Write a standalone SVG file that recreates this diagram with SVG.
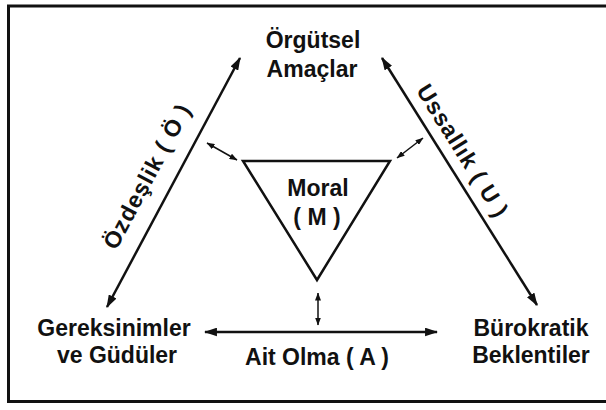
<svg xmlns="http://www.w3.org/2000/svg" width="606" height="410" viewBox="0 0 606 410">
<defs>
<style>
.t{font-family:"Liberation Sans",Arial,sans-serif;font-weight:bold;font-size:23px;fill:#111;text-anchor:middle}
.r{letter-spacing:1px}
.big{stroke:#111;stroke-width:2.5;fill:none}
.sm{stroke:#111;stroke-width:1.5;fill:none}
</style>
<marker id="ah" viewBox="0 0 12 8" refX="11" refY="4" markerUnits="userSpaceOnUse" markerWidth="13" markerHeight="9" orient="auto-start-reverse">
<path d="M0,0 L12,4 L0,8 Z" fill="#111"/>
</marker>
<marker id="as" viewBox="0 0 8 6" refX="7.5" refY="3" markerUnits="userSpaceOnUse" markerWidth="8" markerHeight="6" orient="auto-start-reverse">
<path d="M0,0 L8,3 L0,6 Z" fill="#111"/>
</marker>
</defs>
<rect x="0" y="0" width="606" height="410" fill="#fff"/>
<rect x="8.5" y="6" width="600" height="395.5" fill="none" stroke="#111" stroke-width="3"/>

<g id="connectors">
<line class="big" x1="107" y1="307" x2="240" y2="58" marker-start="url(#ah)" marker-end="url(#ah)"/>
<line class="big" x1="537" y1="305" x2="382" y2="58" marker-start="url(#ah)" marker-end="url(#ah)"/>
<line class="big" x1="205" y1="332" x2="437" y2="332" marker-start="url(#ah)" marker-end="url(#ah)"/>
<line class="sm" x1="207" y1="143" x2="237" y2="160" marker-start="url(#as)" marker-end="url(#as)"/>
<line class="sm" x1="423" y1="138" x2="397" y2="158" marker-start="url(#as)" marker-end="url(#as)"/>
<line class="sm" x1="318" y1="293" x2="318" y2="325" marker-start="url(#as)" marker-end="url(#as)"/>
<text class="t r" transform="translate(154,180) rotate(-62)">Özdeşlik ( Ö )</text>
<text class="t r" transform="translate(456,155) rotate(58)">Ussallık ( U )</text>
<text class="t" x="317" y="365">Ait Olma ( A )</text>
</g>

<g id="orgutsel">
<text class="t" x="313" y="48">Örgütsel</text>
<text class="t" x="312" y="77">Amaçlar</text>
</g>

<g id="moral">
<polygon points="243,161 390,161 317,280" fill="none" stroke="#111" stroke-width="2.5" stroke-linejoin="miter"/>
<text class="t" x="318" y="196">Moral</text>
<text class="t" x="317" y="225">( M )</text>
</g>

<g id="gereksinimler">
<text class="t" x="114" y="336">Gereksinimler</text>
<text class="t" x="117" y="363">ve Güdüler</text>
</g>

<g id="burokratik">
<text class="t" x="531" y="336">Bürokratik</text>
<text class="t" x="531" y="363">Beklentiler</text>
</g>
</svg>
